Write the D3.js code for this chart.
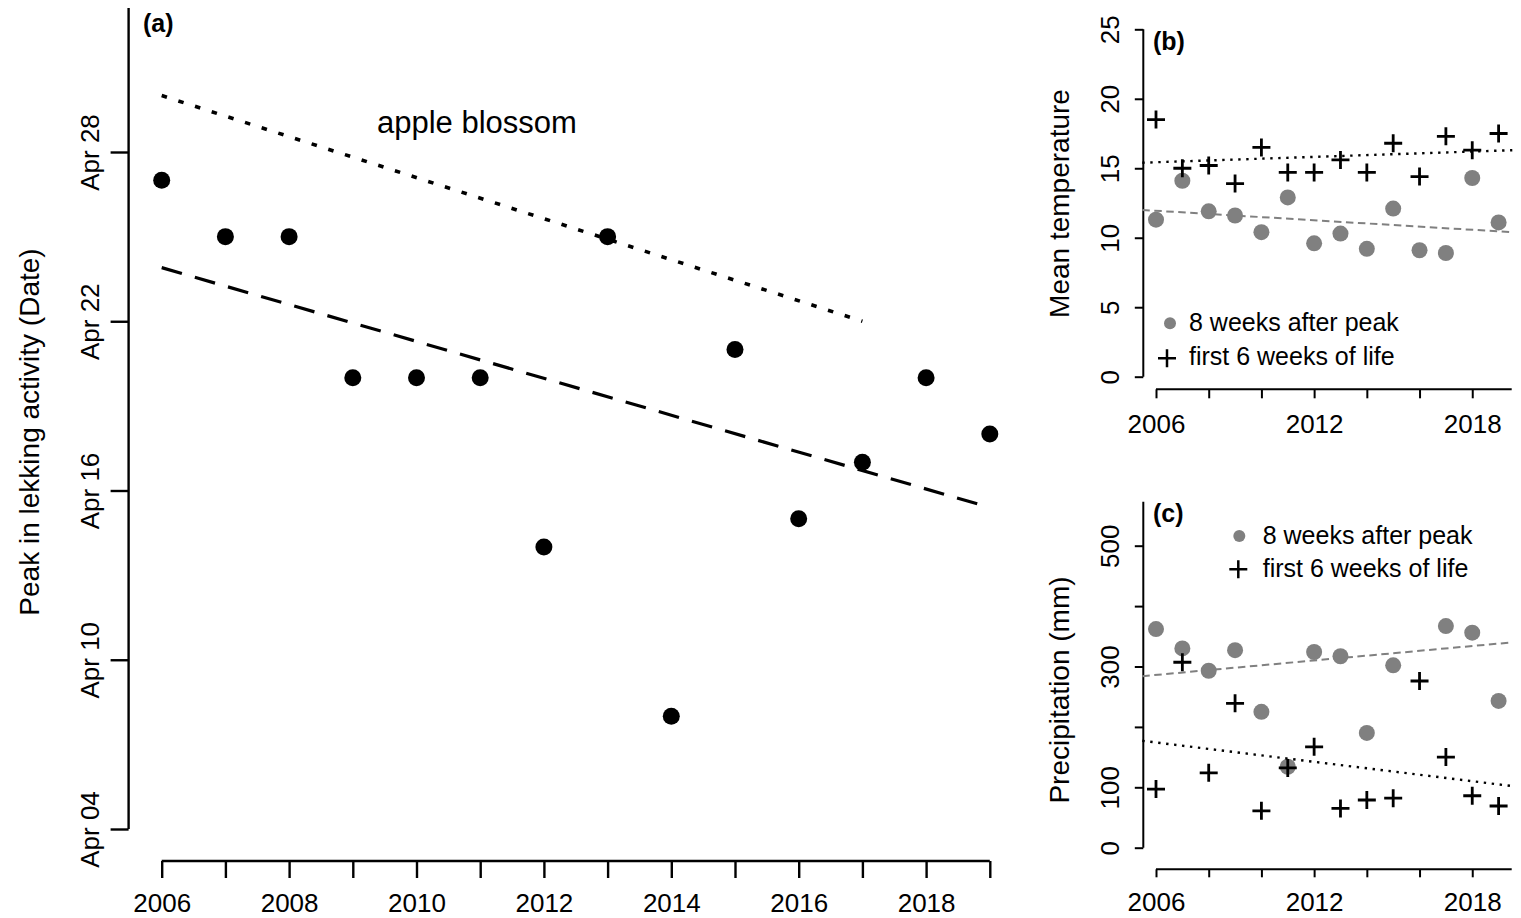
<!DOCTYPE html>
<html>
<head>
<meta charset="utf-8">
<script src="https://cdn.jsdelivr.net/npm/d3@7"></script>
<style>
  html, body { margin: 0; padding: 0; background: #fff; }
  svg { display: block; }
</style>
</head>
<body>
<svg id="chart" width="1521" height="918"></svg>
<script>
// ---------------- DATA ----------------
const years = [2006, 2007, 2008, 2009, 2010, 2011, 2012, 2013, 2014, 2015, 2016, 2017, 2018, 2019];

// (a) peak in lekking activity, day of year (Apr 1 = 91)
const lekkingPeakDay = [117, 115, 115, 110, 110, 110, 104, 115, 98, 111, 105, 107, 110, 108];
const lekkingTrendYears = [2006, 2019];
const lekkingTrendDays = [113.9, 105.4];
const appleBlossomYears = [2006, 2017];
const appleBlossomDays = [120, 112];
const dayTicksA = [94, 100, 106, 112, 118];
const dayTickLabelsA = ["Apr 04", "Apr 10", "Apr 16", "Apr 22", "Apr 28"];
const yearLabelsA = [2006, 2008, 2010, 2012, 2014, 2016, 2018];

// (b) mean temperature
const tempPeak = [11.3, 14.1, 11.9, 11.6, 10.4, 12.9, 9.6, 10.3, 9.2, 12.1, 9.1, 8.9, 14.3, 11.1];
const tempLife = [18.5, 15.0, 15.2, 13.9, 16.5, 14.7, 14.7, 15.6, 14.7, 16.8, 14.4, 17.3, 16.3, 17.5];
const trendYearsBC = [2005.48, 2019.52];
const tempPeakTrend = [12.0, 10.4];
const tempLifeTrend = [15.4, 16.3];
const tempTicks = [0, 5, 10, 15, 20, 25];

// (c) precipitation (mm)
const precipPeak = [362, 330, 293, 327, 225, 134, 324, 317, 190, 302, null, 367, 356, 243];
const precipLife = [97, 307, 124, 239, 61, 132, 167, 65, 79, 82, 276, 150, 86, 69];
const precipPeakTrend = [284, 340];
const precipLifeTrend = [177, 102];
const precipTicks = [0, 100, 200, 300, 400, 500];
const precipTickLabels = ["0", "100", "", "300", "", "500"];

const yearTicksBC = [2006, 2008, 2010, 2012, 2014, 2016, 2018];
const yearLabelsBC = [2006, 2012, 2018];

const legendLabels = ["8 weeks after peak", "first 6 weeks of life"];

// ---------------- DRAW ----------------
const FONT = '"Liberation Sans", Arial, Helvetica, sans-serif';
const GREY = "#808080";
const svg = d3.select("#chart");
svg.append("rect").attr("width", 1521).attr("height", 918).attr("fill", "#fff");

function styleAxis(g, width, fontSize) {
  g.selectAll("path.domain").attr("stroke", "#000").attr("stroke-width", width).attr("fill", "none");
  g.selectAll(".tick line").attr("stroke", "#000").attr("stroke-width", width);
  g.selectAll("text").attr("fill", "#000").style("font-family", FONT).style("font-size", fontSize + "px");
}

function leftAxis(scale, x, ticks, labels, tickLen, labelOffset, lineTop, lineBottom, width, fs) {
  const g = svg.append("g").attr("transform", `translate(${x},0)`)
    .call(d3.axisLeft(scale).tickValues(ticks).tickSize(tickLen).tickSizeOuter(0)
      .tickFormat((d, i) => labels[i]));
  g.select("path.domain").attr("d", `M0,${lineBottom}V${lineTop}`);
  g.selectAll(".tick text")
    .attr("x", null).attr("dy", null)
    .attr("text-anchor", "middle")
    .attr("transform", `translate(${-labelOffset},0) rotate(-90)`);
  styleAxis(g, width, fs);
  return g;
}

function bottomAxis(scale, y, ticks, labelFn, tickLen, labelOffset, lineLeft, lineRight, width, fs) {
  const g = svg.append("g").attr("transform", `translate(0,${y})`)
    .call(d3.axisBottom(scale).tickValues(ticks).tickSize(tickLen).tickSizeOuter(0).tickFormat(labelFn));
  g.select("path.domain").attr("d", `M${lineLeft},0H${lineRight}`);
  g.selectAll(".tick text").attr("y", labelOffset).attr("dy", null).attr("text-anchor", "middle");
  styleAxis(g, width, fs);
  return g;
}

function plus(g, cx, cy, h, w) {
  g.append("path")
    .attr("d", `M${cx - h},${cy}H${cx + h}M${cx},${cy - h}V${cy + h}`)
    .attr("stroke", "#000").attr("stroke-width", w).attr("fill", "none");
}

// ===== Panel (a) =====
const xA = d3.scaleLinear().domain([2006, 2019]).range([161.7, 989.8]);
const yA = d3.scaleLinear().domain([94, 118]).range([829, 152]);

leftAxis(yA, 128.6, dayTicksA, dayTickLabelsA, 18, 29.5, 8, yA(94), 2.4, 26);
bottomAxis(xA, 861, years, d => (yearLabelsA.includes(d) ? d : ""), 17, 50.5, xA(2006), xA(2019), 2.4, 26);

svg.append("text")
  .attr("transform", `translate(39,432) rotate(-90)`)
  .attr("text-anchor", "middle")
  .style("font-family", FONT).style("font-size", "28px")
  .text("Peak in lekking activity (Date)");

const gA = svg.append("g");
const lineA = d3.line().x(d => xA(d[0])).y(d => yA(d[1]));

gA.append("path")
  .attr("d", lineA(d3.zip(lekkingTrendYears, lekkingTrendDays)))
  .attr("stroke", "#000").attr("stroke-width", 3.2).attr("fill", "none")
  .attr("stroke-dasharray", "21,13.5");

gA.append("path")
  .attr("d", lineA(d3.zip(appleBlossomYears, appleBlossomDays)))
  .attr("stroke", "#000").attr("stroke-width", 3.6).attr("fill", "none")
  .attr("stroke-dasharray", "5.5,12");

gA.selectAll("circle.lek").data(d3.zip(years, lekkingPeakDay)).join("circle")
  .attr("class", "lek")
  .attr("cx", d => xA(d[0])).attr("cy", d => yA(d[1])).attr("r", 8.5)
  .attr("fill", "#000");

svg.append("text").attr("x", 377).attr("y", 133)
  .style("font-family", FONT).style("font-size", "31px")
  .text("apple blossom");

svg.append("text").attr("x", 143).attr("y", 32)
  .style("font-family", FONT).style("font-size", "25px").style("font-weight", "bold")
  .text("(a)");

// ===== Panel (b) =====
const xBC = d3.scaleLinear().domain([2006, 2019]).range([1156, 1498.6]);
const yB = d3.scaleLinear().domain([0, 25]).range([376.7, 29.3]);

leftAxis(yB, 1143.3, tempTicks, tempTicks.map(String), 8.5, 24.5, yB(25), yB(0), 2, 26);
bottomAxis(xBC, 389.3, yearTicksBC, d => (yearLabelsBC.includes(d) ? d : ""), 9, 43.5, xBC(2006), 1511.7, 2, 26);

svg.append("text")
  .attr("transform", `translate(1069,203.5) rotate(-90)`)
  .attr("text-anchor", "middle")
  .style("font-family", FONT).style("font-size", "28px")
  .text("Mean temperature");

const gB = svg.append("g");
const lineB = d3.line().x(d => xBC(d[0])).y(d => yB(d[1]));

gB.selectAll("circle.tp").data(d3.zip(years, tempPeak)).join("circle")
  .attr("class", "tp")
  .attr("cx", d => xBC(d[0])).attr("cy", d => yB(d[1])).attr("r", 8)
  .attr("fill", GREY);

gB.append("path")
  .attr("d", lineB(d3.zip(trendYearsBC, tempPeakTrend)))
  .attr("stroke", GREY).attr("stroke-width", 2).attr("fill", "none")
  .attr("stroke-dasharray", "7.5,4.5");
gB.append("path")
  .attr("d", lineB(d3.zip(trendYearsBC, tempLifeTrend)))
  .attr("stroke", "#000").attr("stroke-width", 2.4).attr("fill", "none")
  .attr("stroke-dasharray", "2.4,5.6");

d3.zip(years, tempLife).forEach(d => plus(gB, xBC(d[0]), yB(d[1]), 9, 2.8));

svg.append("text").attr("x", 1153).attr("y", 50)
  .style("font-family", FONT).style("font-size", "25px").style("font-weight", "bold")
  .text("(b)");

// legend (b)
svg.append("circle").attr("cx", 1170).attr("cy", 323.3).attr("r", 6).attr("fill", GREY);
plus(svg, 1167, 358.3, 9, 2.5);
svg.selectAll("text.legb").data(legendLabels).join("text")
  .attr("class", "legb")
  .attr("x", 1189).attr("y", (d, i) => [331, 365][i])
  .style("font-family", FONT).style("font-size", "25px")
  .text(d => d);

// ===== Panel (c) =====
const yC = d3.scaleLinear().domain([0, 500]).range([847.7, 545.7]);

leftAxis(yC, 1143.3, precipTicks, precipTickLabels, 8.5, 24.5, 501.7, yC(0), 2, 26);
bottomAxis(xBC, 869.3, yearTicksBC, d => (yearLabelsBC.includes(d) ? d : ""), 8, 41.5, xBC(2006), 1511.7, 2, 26);

svg.append("text")
  .attr("transform", `translate(1069,690) rotate(-90)`)
  .attr("text-anchor", "middle")
  .style("font-family", FONT).style("font-size", "28px")
  .text("Precipitation (mm)");

const gC = svg.append("g");
const lineC = d3.line().x(d => xBC(d[0])).y(d => yC(d[1]));

gC.selectAll("circle.pp").data(d3.zip(years, precipPeak).filter(d => d[1] != null)).join("circle")
  .attr("class", "pp")
  .attr("cx", d => xBC(d[0])).attr("cy", d => yC(d[1])).attr("r", 8)
  .attr("fill", GREY);

gC.append("path")
  .attr("d", lineC(d3.zip(trendYearsBC, precipPeakTrend)))
  .attr("stroke", GREY).attr("stroke-width", 2).attr("fill", "none")
  .attr("stroke-dasharray", "7.5,4.5");
gC.append("path")
  .attr("d", lineC(d3.zip(trendYearsBC, precipLifeTrend)))
  .attr("stroke", "#000").attr("stroke-width", 2.4).attr("fill", "none")
  .attr("stroke-dasharray", "2.4,5.6");

d3.zip(years, precipLife).forEach(d => plus(gC, xBC(d[0]), yC(d[1]), 9, 2.8));

svg.append("text").attr("x", 1153).attr("y", 522)
  .style("font-family", FONT).style("font-size", "25px").style("font-weight", "bold")
  .text("(c)");

// legend (c)
svg.append("circle").attr("cx", 1239.3).attr("cy", 536).attr("r", 6).attr("fill", GREY);
plus(svg, 1238.3, 569.3, 9, 2.5);
svg.selectAll("text.legc").data(legendLabels).join("text")
  .attr("class", "legc")
  .attr("x", 1262.7).attr("y", (d, i) => [543.5, 577][i])
  .style("font-family", FONT).style("font-size", "25px")
  .text(d => d);
</script>
</body>
</html>
